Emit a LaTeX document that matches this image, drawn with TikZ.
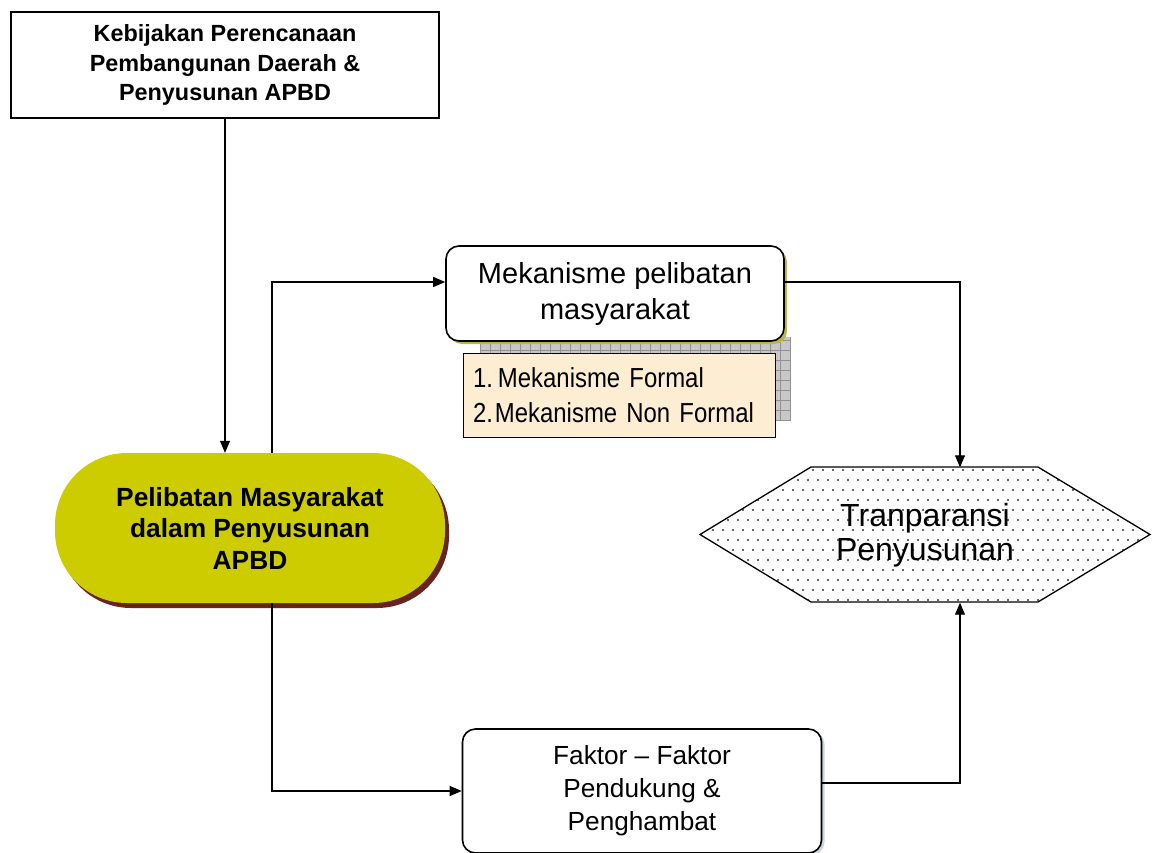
\documentclass[tikz,border=0pt]{standalone}
\usepackage{fontspec}
\setmainfont{Liberation Sans}
\newfontfamily\narrowfont[FakeStretch=0.87]{Liberation Sans}
\usetikzlibrary{arrows.meta,shadows}
\definecolor{pill}{RGB}{204,204,0}
\definecolor{pillshadow}{RGB}{105,34,34}
\definecolor{note}{RGB}{253,237,210}
\definecolor{gridfill}{RGB}{200,200,200}
\definecolor{gridline}{RGB}{145,145,145}
\begin{document}
\begin{tikzpicture}[x=1pt,y=-1pt,
  conn/.style={line width=1.1pt,-{Triangle[length=12pt,width=10pt]}},
  card/.style={draw,line width=1.6pt,fill=white,rounded corners=13pt,align=center},
  dotfill/.style={fill=black!80}]
\useasboundingbox (0,0) rectangle (1152,852);

% policy box
\node[draw,line width=2pt,minimum width=428pt,minimum height=106pt,align=center,
      font=\fontsize{23.4}{29.5}\selectfont\bfseries] (policy) at (225,65)
  {Kebijakan Perencanaan\\Pembangunan Daerah \&\\Penyusunan APBD};

% participation pill
\node[fill=pill,rounded corners=72pt,minimum width=390pt,minimum height=150pt,
      drop shadow={shadow xshift=4pt,shadow yshift=-5pt,fill=pillshadow,opacity=1},
      align=center,font=\fontsize{26.3}{31.5}\selectfont\bfseries] (part) at (250,528)
  {Pelibatan Masyarakat\\dalam Penyusunan\\APBD};

% hatched shadow panel behind the mechanism boxes
\fill[gridfill] (480,337) rectangle (791,420);
\draw[gridline,line width=0.5pt] (480,337) grid[step=10pt] (791,420);

% mechanism box
\node[card,minimum width=338pt,minimum height=95pt,
      drop shadow={shadow xshift=3pt,shadow yshift=-3pt,fill=olive!60,opacity=1},
      font=\fontsize{29}{36}\selectfont] (mech) at (615,293.5)
  {Mekanisme pelibatan\\masyarakat};

% mechanism list
\node[draw,line width=1pt,fill=note,minimum height=84pt,text width=292pt,
      inner xsep=10pt,align=left,font=\narrowfont\fontsize{27.5}{35}\selectfont]
  (mlist) at (619,395)
  {1.\hspace{5pt}Mekanisme Formal\\2.\hspace{2pt}Mekanisme Non Formal};

% transparency hexagon with dotted fill
\begin{scope}
  \clip (700,534.5) -- (811,467) -- (1038,467) -- (1150,534.5) -- (1038,602) -- (811,602) -- cycle;
  \foreach \j in {0,...,14}{
    \foreach \i in {0,...,46}{
      \fill[dotfill] ({703+10*\i+5*mod(\j,2)},{470+10*\j}) circle (1.1pt);
    }
  }
\end{scope}
\draw[line width=1.3pt] (700,534.5) -- (811,467) -- (1038,467) -- (1150,534.5) -- (1038,602) -- (811,602) -- cycle;
\node[minimum width=450pt,minimum height=135pt,align=center,
      font=\fontsize{32}{34}\selectfont] (hex) at (925,535)
  {Tranparansi\\Penyusunan};

% factors box
\node[card,minimum width=359pt,minimum height=124pt,
      drop shadow={shadow xshift=3pt,shadow yshift=-2pt,fill=cyan!15!gray!40,opacity=1},
      font=\fontsize{26.2}{33}\selectfont] (factor) at (642,791)
  {Faktor – Faktor\\Pendukung \&\\Penghambat};

% connectors
\draw[conn] (policy.south) -- (policy.south |- part.north);
\draw[conn] ([xshift=22pt]part.north) |- ([yshift=11.5pt]mech.west);
\draw[conn] ([yshift=11.5pt]mech.east) -| ([xshift=35pt]hex.north);
\draw[conn] ([xshift=22pt]part.south) |- (factor.west);
\draw[conn] ([yshift=8pt]factor.east) -| ([xshift=35pt]hex.south);
\end{tikzpicture}
\end{document}
